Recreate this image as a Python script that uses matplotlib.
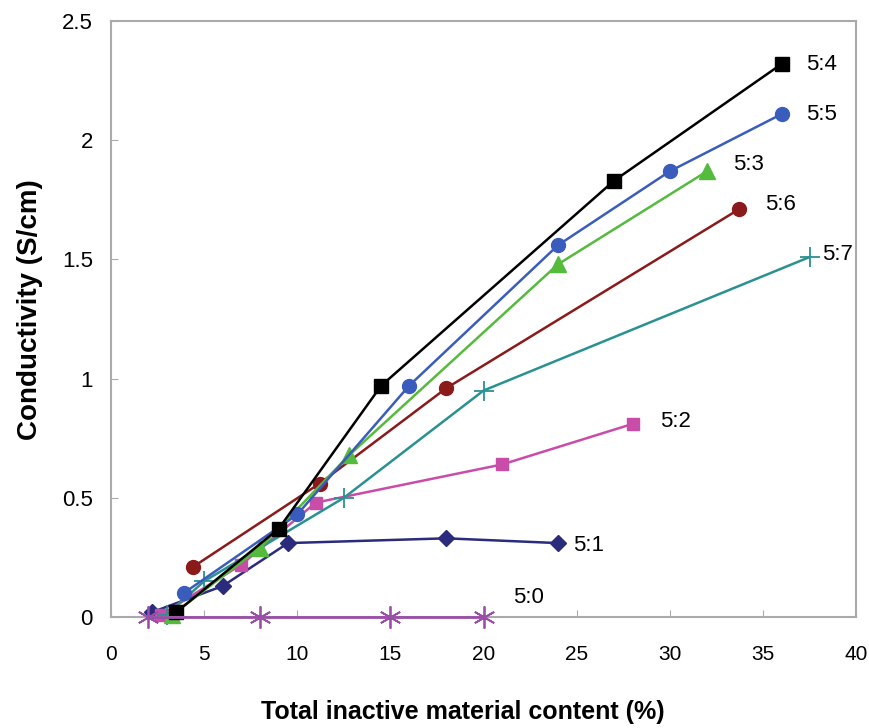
import matplotlib.pyplot as plt

plt.rcParams['font.family'] = ['Liberation Sans', 'DejaVu Sans']

# series data
x_54 = [3.5, 9.0, 14.5, 27.0, 36.0]
y_54 = [0.02, 0.37, 0.97, 1.83, 2.32]

x_55 = [3.9, 10.0, 16.0, 24.0, 30.0, 36.0]
y_55 = [0.10, 0.43, 0.97, 1.56, 1.87, 2.11]

x_53 = [3.3, 8.0, 12.8, 24.0, 32.0]
y_53 = [0.01, 0.29, 0.68, 1.48, 1.87]

x_56 = [4.4, 11.2, 18.0, 33.7]
y_56 = [0.21, 0.56, 0.96, 1.71]

x_57 = [3.0, 5.0, 12.5, 20.0, 37.5]
y_57 = [0.01, 0.15, 0.50, 0.95, 1.51]

x_52 = [2.7, 7.0, 11.0, 21.0, 28.0]
y_52 = [0.01, 0.22, 0.48, 0.64, 0.81]

x_51 = [2.2, 6.0, 9.5, 18.0, 24.0]
y_51 = [0.02, 0.13, 0.31, 0.33, 0.31]

x_50 = [2.0, 8.0, 15.0, 20.0]
y_50 = [0.0, 0.0, 0.0, 0.0]

labels = ["5:4", "5:5", "5:3", "5:6", "5:7", "5:2", "5:1", "5:0"]
label_x = [37.3, 37.3, 33.4, 35.1, 38.2, 29.5, 24.8, 21.6]
label_y = [2.32, 2.11, 1.90, 1.73, 1.52, 0.82, 0.30, 0.08]

fig = plt.figure(figsize=(8.7, 7.28), dpi=100)
ax = fig.add_axes([0.1276, 0.1525, 0.8564, 0.8185])

ax.plot(x_50, y_50, color="#9b4ea8", marker=(6, 2, 0), markersize=16, mew=1.3,
        lw=2, clip_on=False, zorder=5)
ax.plot(x_51, y_51, color="#2b2b7e", marker="D", markersize=8, lw=1.8, clip_on=False)
ax.plot(x_52, y_52, color="#c94ca8", marker="s", markersize=9, lw=1.8, clip_on=False)
ax.plot(x_57, y_57, color="#2a9191", marker="+", markersize=14, mew=1.3, lw=1.8, clip_on=False)
ax.plot(x_56, y_56, color="#8b1a1a", marker="o", markersize=10, lw=1.8, clip_on=False)
ax.plot(x_53, y_53, color="#55bb3d", marker="^", markersize=11, lw=1.8, clip_on=False)
ax.plot(x_55, y_55, color="#3a5cbc", marker="o", markersize=10, lw=1.8, clip_on=False)
ax.plot(x_54, y_54, color="black", marker="s", markersize=10, lw=1.8, clip_on=False)

for t, lx, ly in zip(labels, label_x, label_y):
    ax.text(lx, ly, t, fontsize=16, va="center", ha="left")

ax.set_xlim(0, 40)
ax.set_ylim(0, 2.5)
ax.set_xticks(range(0, 41, 5))
ax.set_yticks([0, 0.5, 1, 1.5, 2, 2.5])
ax.set_yticklabels(["0", "0.5", "1", "1.5", "2", "2.5"])
ax.tick_params(direction="in", length=5, color="#aaaaaa")
ax.tick_params(axis="x", labelsize=15, pad=20)
ax.tick_params(axis="y", labelsize=16, pad=13)
for s in ax.spines.values():
    s.set_color("#aaaaaa")
    s.set_linewidth(1.5)

ax.set_ylabel("Conductivity (S/cm)", fontsize=20, fontweight="bold")
ax.set_xlabel("Total inactive material content (%)", fontsize=18, fontweight="bold")
ax.xaxis.set_label_coords(0.472, -0.14)
ax.yaxis.set_label_coords(-0.091, 0.515)

fig.savefig("out.png", dpi=100)
